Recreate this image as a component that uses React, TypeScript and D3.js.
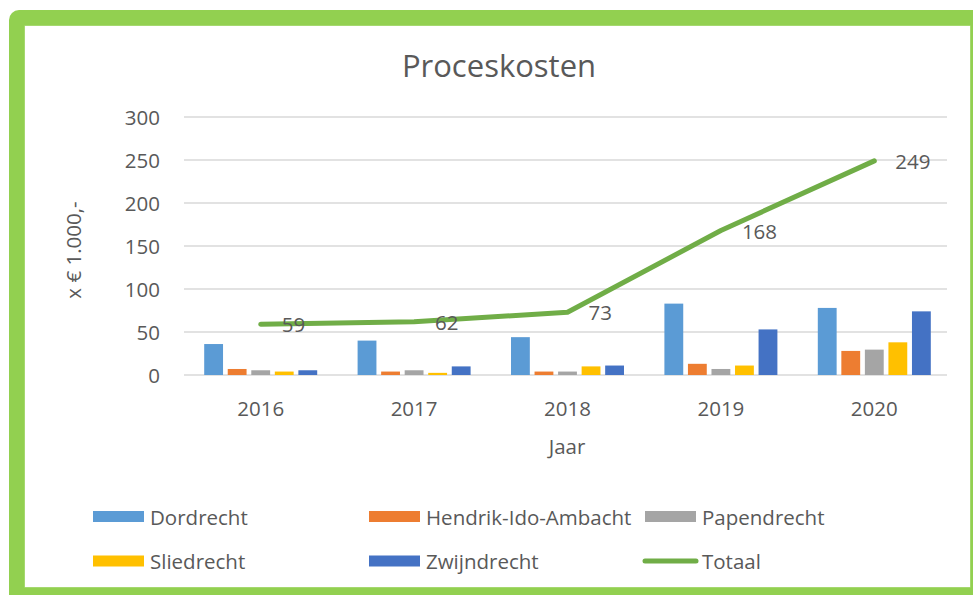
import React from "react";
import * as d3 from "d3";

const years = ["2016", "2017", "2018", "2019", "2020"];
const dordrecht = [36, 40, 44, 83, 78];
const hendrikIdoAmbacht = [7, 4, 4, 13, 28];
const papendrecht = [5.5, 5.5, 4, 7, 29.5];
const sliedrecht = [4, 2.5, 10, 11, 38];
const zwijndrecht = [5.5, 10, 11, 53, 74];
const totaal = [59, 62, 73, 168, 249];
const yTicks = [0, 50, 100, 150, 200, 250, 300];

const series = [
  { name: "Dordrecht", values: dordrecht, color: "#5B9BD5" },
  { name: "Hendrik-Ido-Ambacht", values: hendrikIdoAmbacht, color: "#ED7D31" },
  { name: "Papendrecht", values: papendrecht, color: "#A5A5A5" },
  { name: "Sliedrecht", values: sliedrecht, color: "#FFC000" },
  { name: "Zwijndrecht", values: zwijndrecht, color: "#4472C4" },
];

const font = "'Open Sans', sans-serif";
const textColor = "#595959";
const fs = 20.5;

export default function App() {
  const width = 973;
  const height = 595;

  const x = d3.scaleBand().domain(years).range([184, 951]).padding(0);
  const y = d3.scaleLinear().domain([0, 300]).range([375, 117]);
  const groupWidth = 113;
  const inner = d3
    .scaleBand()
    .domain(series.map((s) => s.name))
    .range([0, groupWidth])
    .paddingInner(0.2);

  const cx = (yr) => x(yr) + x.bandwidth() / 2;
  const line = d3
    .line()
    .x((d, i) => cx(years[i]))
    .y((d) => y(d));

  // legend layout: 3 columns, 2 rows
  const legendCols = [93, 369, 645];
  const legendRows = [516.5, 561];
  const legendItems = [
    ...series.map((s) => ({ name: s.name, color: s.color, type: "bar" })),
    { name: "Totaal", color: "#70AD47", type: "line" },
  ];

  return (
    <svg
      width={width}
      height={height}
      style={{ position: "absolute", left: 0, top: 0 }}
      fontFamily={font}
    >
      <rect x={0} y={0} width={width} height={height} fill="white" />
      {/* frame */}
      <rect x={9} y={10} width={990} height={620} rx={10} fill="#92D050" />
      <rect x={24.5} y={25.5} width={946} height={562} fill="#B8E08E" />
      <rect x={25} y={26} width={945} height={561} fill="white" />

      <text
        x={499}
        y={65}
        textAnchor="middle"
        dominantBaseline="central"
        fontSize={31}
        fill={textColor}
      >
        Proceskosten
      </text>

      {/* gridlines */}
      {yTicks.map((t) => (
        <g key={t}>
          <line
            x1={184}
            x2={947}
            y1={y(t)}
            y2={y(t)}
            stroke="#D9D9D9"
            strokeWidth={1.5}
          />
          <text
            x={160}
            y={y(t)}
            textAnchor="end"
            dominantBaseline="central"
            fontSize={fs}
            fill={textColor}
          >
            {t}
          </text>
        </g>
      ))}

      {/* bars */}
      {years.map((yr, i) => {
        const gx = x(yr) + (x.bandwidth() - groupWidth) / 2;
        return (
          <g key={yr}>
            {series.map((s) => (
              <rect
                key={s.name}
                x={gx + inner(s.name)}
                y={y(s.values[i])}
                width={inner.bandwidth()}
                height={y(0) - y(s.values[i])}
                fill={s.color}
              />
            ))}
          </g>
        );
      })}

      {/* total line */}
      <path
        d={line(totaal)}
        fill="none"
        stroke="#70AD47"
        strokeWidth={5}
        strokeLinecap="round"
        strokeLinejoin="round"
      />
      {totaal.map((v, i) => (
        <text
          key={i}
          x={cx(years[i]) + 21}
          y={y(v)}
          dominantBaseline="central"
          fontSize={fs}
          fill={textColor}
        >
          {v}
        </text>
      ))}

      {/* x axis labels */}
      {years.map((yr) => (
        <text
          key={yr}
          x={cx(yr)}
          y={408}
          textAnchor="middle"
          dominantBaseline="central"
          fontSize={fs}
          fill={textColor}
        >
          {yr}
        </text>
      ))}

      <text
        x={567}
        y={446}
        textAnchor="middle"
        dominantBaseline="central"
        fontSize={fs}
        fill={textColor}
      >
        Jaar
      </text>
      <text
        transform="translate(73,250) rotate(-90)"
        textAnchor="middle"
        dominantBaseline="central"
        fontSize={fs}
        fill={textColor}
      >
        x € 1.000,-
      </text>

      {/* legend */}
      {legendItems.map((item, i) => {
        const lx = legendCols[i % 3];
        const ly = legendRows[Math.floor(i / 3)];
        return (
          <g key={item.name}>
            {item.type === "bar" ? (
              <rect x={lx} y={ly - 5.5} width={51} height={11} fill={item.color} />
            ) : (
              <line
                x1={lx}
                x2={lx + 51}
                y1={ly}
                y2={ly}
                stroke={item.color}
                strokeWidth={5}
                strokeLinecap="round"
              />
            )}
            <text
              x={lx + 57}
              y={ly}
              dominantBaseline="central"
              fontSize={fs}
              fill={textColor}
            >
              {item.name}
            </text>
          </g>
        );
      })}
    </svg>
  );
}
